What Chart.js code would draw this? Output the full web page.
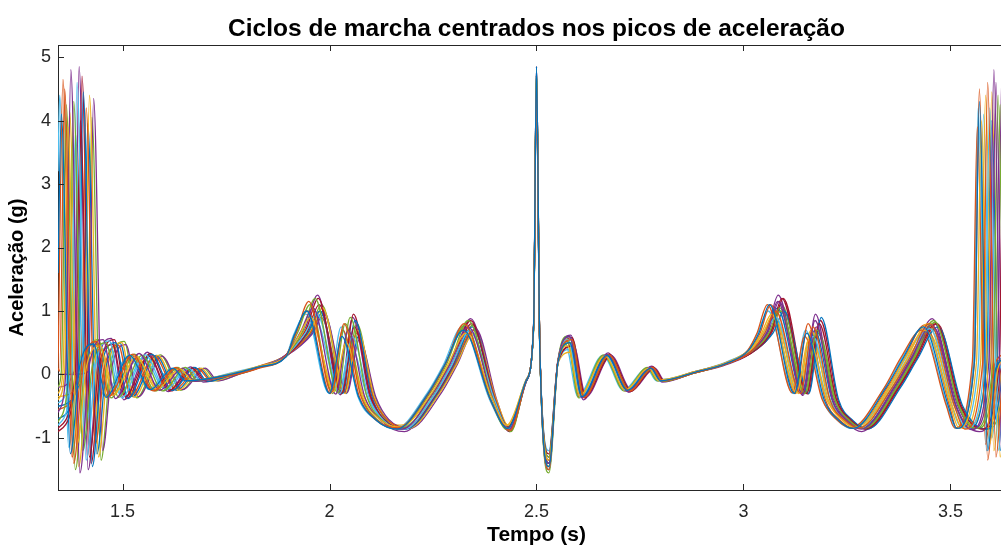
<!DOCTYPE html>
<html>
<head>
<meta charset="utf-8">
<script src="https://cdn.jsdelivr.net/npm/chart.js@4.4.1/dist/chart.umd.min.js"></script>
<style>
html,body{margin:0;padding:0;background:#fff;overflow:hidden;}
#wrap{width:1030px;height:545px;}
</style>
</head>
<body>
<div id="wrap"><canvas id="c" width="1030" height="545"></canvas></div>
<script>
// Tick values
const xTicks = [1.5, 2, 2.5, 3, 3.5];
const yTicks = [-1, 0, 1, 2, 3, 4, 5];
const xRange = [1.344, 3.656];
const yRange = [-1.82, 5.19];
const titulo = 'Ciclos de marcha centrados nos picos de aceleração';

// Gait cycles: [time (s), acceleration (g)], each read/
const ciclo01 = [[1.344,1.6],[1.352,4.1],[1.374,-1.25],[1.397,0.15],[1.430,0.48],[1.460,-0.36],[1.517,0.3],[1.567,-0.24],[1.622,0.1],[1.652,-0.1],[1.76,0.0],[1.83,0.12],[1.895,0.28],[1.915,0.62],[1.945,1.0],[2.000,-0.3],[2.030,0.6],[2.070,-0.35],[2.113,-0.72],[2.163,-0.86],[2.238,-0.3],[2.278,0.15],[2.323,0.7],[2.389,-0.4],[2.430,-0.85],[2.475,-0.1],[2.493,0.75],[2.5,4.85],[2.508,0.4],[2.53,-1.45],[2.552,0.2],[2.58,0.5],[2.61,-0.35],[2.67,0.3],[2.72,-0.25],[2.776,0.1],[2.80,-0.1],[2.88,0.03],[2.96,0.18],[3.012,0.38],[3.037,0.65],[3.063,1.1],[3.123,-0.3],[3.153,0.65],[3.195,-0.4],[3.23,-0.72],[3.265,-0.85],[3.345,-0.2],[3.385,0.25],[3.435,0.75],[3.495,-0.5],[3.515,-0.85],[3.558,0.2],[3.57,4.3],[3.59,-1.2],[3.61,0.1],[3.65,0.3]];
const ciclo02 = [[1.344,0.1],[1.348,0.05],[1.36,4.5],[1.382,-1.4],[1.405,0.15],[1.438,0.52],[1.468,-0.34],[1.525,0.32],[1.575,-0.26],[1.63,0.11],[1.66,-0.1],[1.76,-0.02],[1.83,0.1],[1.895,0.3],[1.92,0.66],[1.95,1.15],[2.005,-0.28],[2.035,0.8],[2.075,-0.33],[2.115,-0.72],[2.165,-0.84],[2.24,-0.3],[2.28,0.16],[2.325,0.8],[2.39,-0.42],[2.436,-0.88],[2.475,-0.1],[2.493,0.78],[2.5,4.7],[2.508,0.45],[2.53,-1.5],[2.552,0.22],[2.585,0.55],[2.615,-0.36],[2.675,0.31],[2.725,-0.26],[2.781,0.11],[2.805,-0.1],[2.88,0.02],[2.96,0.17],[3.02,0.37],[3.052,0.66],[3.078,1.0],[3.138,-0.3],[3.168,0.75],[3.21,-0.42],[3.245,-0.72],[3.28,-0.84],[3.36,-0.2],[3.40,0.24],[3.45,0.8],[3.51,-0.5],[3.535,-0.86],[3.578,0.2],[3.59,4.6],[3.61,-1.3],[3.63,0.15],[3.66,0.3]];
const ciclo03 = [[1.344,-0.3],[1.356,0.05],[1.368,3.9],[1.39,-1.1],[1.413,0.13],[1.446,0.45],[1.476,-0.33],[1.533,0.28],[1.583,-0.23],[1.638,0.09],[1.668,-0.09],[1.76,0.01],[1.83,0.13],[1.895,0.29],[1.925,0.6],[1.955,0.9],[2.01,-0.27],[2.04,0.5],[2.08,-0.36],[2.12,-0.7],[2.17,-0.83],[2.245,-0.31],[2.285,0.14],[2.33,0.65],[2.393,-0.38],[2.428,-0.8],[2.475,-0.09],[2.493,0.72],[2.5,4.8],[2.508,0.38],[2.53,-1.35],[2.552,0.19],[2.575,0.45],[2.605,-0.33],[2.665,0.29],[2.715,-0.24],[2.771,0.1],[2.795,-0.09],[2.88,0.04],[2.96,0.19],[3.015,0.39],[3.042,0.63],[3.068,0.95],[3.128,-0.29],[3.158,0.55],[3.20,-0.38],[3.235,-0.7],[3.27,-0.83],[3.35,-0.21],[3.39,0.26],[3.44,0.7],[3.50,-0.48],[3.52,-0.84],[3.563,0.2],[3.575,4.0],[3.595,-1.1],[3.615,0.1],[3.65,0.35]];
const ciclo04 = [[1.344,-0.6],[1.363,0.05],[1.375,4.8],[1.397,-1.55],[1.42,0.16],[1.453,0.55],[1.483,-0.38],[1.54,0.33],[1.59,-0.25],[1.645,0.1],[1.675,-0.11],[1.76,0.0],[1.83,0.12],[1.895,0.31],[1.93,0.67],[1.96,1.05],[2.015,-0.31],[2.045,0.7],[2.085,-0.35],[2.125,-0.73],[2.175,-0.86],[2.25,-0.29],[2.29,0.15],[2.335,0.75],[2.395,-0.41],[2.433,-0.87],[2.475,-0.11],[2.493,0.76],[2.5,4.6],[2.508,0.42],[2.53,-1.4],[2.552,0.21],[2.58,0.6],[2.61,-0.37],[2.67,0.32],[2.72,-0.27],[2.776,0.12],[2.80,-0.1],[2.88,0.03],[2.96,0.18],[3.022,0.38],[3.057,0.67],[3.083,1.15],[3.143,-0.31],[3.173,0.85],[3.215,-0.4],[3.25,-0.73],[3.285,-0.86],[3.365,-0.19],[3.405,0.25],[3.455,0.78],[3.515,-0.52],[3.55,-0.87],[3.593,0.2],[3.605,4.8],[3.625,-1.4],[3.645,0.1],[3.67,0.3]];
const ciclo05 = [[1.344,-0.75],[1.37,0.05],[1.382,4.3],[1.404,-1.2],[1.427,0.14],[1.46,0.5],[1.49,-0.36],[1.547,0.3],[1.597,-0.26],[1.652,0.11],[1.682,-0.1],[1.76,-0.01],[1.83,0.11],[1.895,0.3],[1.935,0.68],[1.965,1.2],[2.02,-0.29],[2.05,0.9],[2.09,-0.34],[2.125,-0.71],[2.175,-0.85],[2.25,-0.3],[2.29,0.16],[2.335,0.85],[2.395,-0.4],[2.438,-0.9],[2.475,-0.1],[2.493,0.74],[2.5,4.75],[2.508,0.41],[2.53,-1.3],[2.552,0.2],[2.585,0.5],[2.615,-0.35],[2.675,0.3],[2.725,-0.25],[2.781,0.1],[2.805,-0.11],[2.88,0.02],[2.96,0.17],[3.025,0.39],[3.062,0.66],[3.088,1.05],[3.148,-0.3],[3.178,0.7],[3.22,-0.39],[3.255,-0.72],[3.29,-0.85],[3.37,-0.2],[3.41,0.25],[3.46,0.85],[3.52,-0.5],[3.56,-0.85],[3.603,0.2],[3.615,4.4],[3.635,-1.25],[3.655,0.1],[3.68,0.3]];
const ciclo06 = [[1.344,-0.8],[1.378,0.05],[1.39,4.6],[1.412,-1.35],[1.435,0.15],[1.468,0.53],[1.498,-0.37],[1.555,0.31],[1.605,-0.24],[1.66,0.1],[1.69,-0.1],[1.76,0.0],[1.83,0.12],[1.895,0.3],[1.94,0.64],[1.97,0.95],[2.025,-0.3],[2.055,0.6],[2.095,-0.36],[2.13,-0.72],[2.18,-0.86],[2.255,-0.31],[2.295,0.14],[2.34,0.7],[2.398,-0.39],[2.433,-0.86],[2.475,-0.1],[2.493,0.75],[2.5,4.8],[2.508,0.4],[2.53,-1.5],[2.552,0.2],[2.577,0.55],[2.607,-0.36],[2.667,0.3],[2.717,-0.26],[2.773,0.1],[2.797,-0.1],[2.88,0.03],[2.96,0.18],[3.02,0.37],[3.052,0.64],[3.078,0.9],[3.138,-0.29],[3.168,0.6],[3.21,-0.41],[3.245,-0.71],[3.28,-0.85],[3.36,-0.2],[3.40,0.25],[3.45,0.72],[3.51,-0.5],[3.54,-0.85],[3.583,0.2],[3.595,4.2],[3.615,-1.2],[3.635,0.1],[3.66,0.3]];
const ciclo07 = [[1.344,-0.85],[1.386,0.05],[1.398,4.0],[1.42,-1.3],[1.443,0.14],[1.476,0.47],[1.506,-0.35],[1.563,0.29],[1.613,-0.25],[1.668,0.1],[1.698,-0.1],[1.76,0.0],[1.83,0.12],[1.895,0.29],[1.945,0.66],[1.975,1.1],[2.03,-0.29],[2.06,0.75],[2.10,-0.35],[2.133,-0.72],[2.183,-0.85],[2.258,-0.3],[2.298,0.15],[2.343,0.8],[2.399,-0.4],[2.431,-0.83],[2.475,-0.1],[2.493,0.75],[2.5,4.65],[2.508,0.4],[2.53,-1.25],[2.552,0.2],[2.588,0.45],[2.618,-0.34],[2.678,0.29],[2.728,-0.25],[2.784,0.1],[2.808,-0.1],[2.88,0.03],[2.96,0.17],[3.028,0.38],[3.067,0.68],[3.093,1.2],[3.153,-0.3],[3.183,0.8],[3.225,-0.4],[3.26,-0.72],[3.295,-0.86],[3.375,-0.2],[3.415,0.24],[3.465,0.8],[3.525,-0.5],[3.575,-0.86],[3.618,0.2],[3.63,4.7],[3.65,-1.3],[3.67,0.1]];
const ciclo08 = [[1.344,-0.7],[1.393,0.05],[1.405,4.45],[1.427,-1.45],[1.45,0.16],[1.483,0.5],[1.513,-0.38],[1.57,0.32],[1.62,-0.25],[1.675,0.11],[1.705,-0.11],[1.76,-0.02],[1.83,0.11],[1.895,0.3],[1.947,0.65],[1.977,1.0],[2.032,-0.3],[2.062,0.85],[2.102,-0.34],[2.135,-0.73],[2.185,-0.86],[2.26,-0.3],[2.30,0.15],[2.345,0.75],[2.40,-0.41],[2.435,-0.86],[2.475,-0.11],[2.493,0.77],[2.5,4.85],[2.508,0.43],[2.53,-1.4],[2.552,0.21],[2.58,0.6],[2.61,-0.36],[2.67,0.31],[2.72,-0.26],[2.776,0.11],[2.80,-0.1],[2.88,0.02],[2.96,0.18],[3.03,0.39],[3.072,0.66],[3.098,1.0],[3.158,-0.3],[3.188,0.9],[3.23,-0.4],[3.265,-0.73],[3.30,-0.86],[3.38,-0.2],[3.42,0.24],[3.47,0.75],[3.53,-0.5],[3.585,-0.86],[3.628,0.2],[3.64,4.5],[3.66,-1.3]];
const ciclo09 = [[1.344,-0.55],[1.40,0.05],[1.412,4.2],[1.434,-1.1],[1.457,0.13],[1.49,0.46],[1.52,-0.34],[1.577,0.29],[1.627,-0.23],[1.682,0.09],[1.712,-0.09],[1.765,0.0],[1.83,0.13],[1.895,0.3],[1.95,0.62],[1.98,0.9],[2.035,-0.28],[2.065,0.65],[2.105,-0.35],[2.137,-0.7],[2.187,-0.84],[2.262,-0.29],[2.302,0.15],[2.347,0.7],[2.401,-0.39],[2.433,-0.84],[2.475,-0.09],[2.493,0.73],[2.5,4.7],[2.508,0.39],[2.53,-1.35],[2.552,0.19],[2.584,0.5],[2.614,-0.35],[2.674,0.3],[2.724,-0.25],[2.78,0.1],[2.804,-0.09],[2.88,0.04],[2.96,0.19],[3.01,0.38],[3.032,0.64],[3.058,1.1],[3.118,-0.29],[3.148,0.6],[3.19,-0.39],[3.225,-0.71],[3.26,-0.84],[3.34,-0.21],[3.38,0.26],[3.43,0.7],[3.49,-0.49],[3.51,-0.84],[3.553,0.2],[3.565,3.9],[3.585,-1.1],[3.605,0.12],[3.64,0.35]];
const ciclo10 = [[1.344,-0.35],[1.408,0.05],[1.42,4.4],[1.442,-1.3],[1.465,0.15],[1.498,0.5],[1.528,-0.36],[1.585,0.3],[1.635,-0.25],[1.69,0.1],[1.72,-0.1],[1.77,0.0],[1.83,0.12],[1.895,0.3],[1.953,0.66],[1.983,1.05],[2.038,-0.3],[2.068,0.7],[2.108,-0.35],[2.14,-0.72],[2.19,-0.85],[2.265,-0.3],[2.305,0.14],[2.35,0.65],[2.403,-0.4],[2.437,-0.86],[2.475,-0.1],[2.493,0.76],[2.5,4.8],[2.508,0.42],[2.53,-1.45],[2.552,0.2],[2.576,0.55],[2.606,-0.36],[2.666,0.3],[2.716,-0.26],[2.772,0.1],[2.796,-0.1],[2.88,0.03],[2.96,0.18],[3.018,0.38],[3.047,0.65],[3.073,0.95],[3.133,-0.3],[3.163,0.7],[3.205,-0.4],[3.24,-0.72],[3.275,-0.85],[3.355,-0.2],[3.395,0.25],[3.445,0.8],[3.505,-0.5],[3.53,-0.85],[3.573,0.2],[3.585,4.4],[3.605,-1.2],[3.625,0.1],[3.66,0.3]];
const ciclo11 = [[1.344,0.0],[1.39,0.0],[1.418,0.05],[1.43,4.35],[1.452,-1.2],[1.475,0.14],[1.508,0.47],[1.538,-0.35],[1.595,0.29],[1.645,-0.24],[1.70,0.1],[1.73,-0.1],[1.78,0.0],[1.835,0.12],[1.895,0.29],[1.957,0.63],[1.987,0.95],[2.042,-0.29],[2.072,0.55],[2.112,-0.36],[2.143,-0.71],[2.193,-0.85],[2.268,-0.31],[2.308,0.15],[2.353,0.72],[2.404,-0.4],[2.433,-0.85],[2.475,-0.1],[2.493,0.75],[2.5,4.75],[2.508,0.4],[2.53,-1.3],[2.552,0.2],[2.59,0.45],[2.62,-0.35],[2.68,0.3],[2.73,-0.25],[2.786,0.1],[2.81,-0.1],[2.88,0.03],[2.96,0.18],[3.024,0.38],[3.06,0.67],[3.086,1.15],[3.146,-0.3],[3.176,0.75],[3.218,-0.4],[3.253,-0.72],[3.288,-0.85],[3.368,-0.2],[3.408,0.25],[3.458,0.75],[3.518,-0.5],[3.555,-0.85],[3.598,0.2],[3.61,4.6],[3.63,-1.3],[3.65,0.1],[3.67,0.3]];
const ciclo12 = [[1.344,-0.2],[1.352,0.05],[1.364,4.25],[1.386,-1.5],[1.409,0.16],[1.442,0.55],[1.472,-0.37],[1.529,0.32],[1.579,-0.26],[1.634,0.11],[1.664,-0.11],[1.76,0.0],[1.83,0.12],[1.895,0.3],[1.923,0.66],[1.953,1.1],[2.008,-0.3],[2.038,0.8],[2.078,-0.34],[2.117,-0.72],[2.167,-0.86],[2.242,-0.3],[2.282,0.15],[2.327,0.78],[2.391,-0.41],[2.429,-0.87],[2.475,-0.11],[2.493,0.77],[2.5,4.7],[2.508,0.43],[2.53,-1.55],[2.552,0.21],[2.572,0.6],[2.602,-0.37],[2.662,0.31],[2.712,-0.26],[2.768,0.11],[2.792,-0.1],[2.88,0.02],[2.96,0.17],[3.026,0.38],[3.064,0.66],[3.09,1.0],[3.15,-0.3],[3.18,0.65],[3.222,-0.41],[3.257,-0.72],[3.292,-0.85],[3.372,-0.2],[3.412,0.25],[3.462,0.82],[3.522,-0.5],[3.565,-0.85],[3.608,0.2],[3.62,4.25],[3.64,-1.25],[3.66,0.1]];
const ciclo13 = [[1.344,-0.45],[1.374,0.05],[1.386,3.8],[1.408,-1.0],[1.431,0.12],[1.464,0.42],[1.494,-0.32],[1.551,0.27],[1.601,-0.22],[1.656,0.09],[1.686,-0.08],[1.76,0.02],[1.83,0.13],[1.895,0.28],[1.937,0.58],[1.967,0.85],[2.022,-0.26],[2.052,0.45],[2.092,-0.37],[2.128,-0.7],[2.178,-0.82],[2.253,-0.32],[2.293,0.13],[2.338,0.68],[2.397,-0.37],[2.433,-0.82],[2.475,-0.08],[2.493,0.7],[2.5,4.6],[2.508,0.36],[2.53,-1.2],[2.552,0.18],[2.582,0.4],[2.612,-0.32],[2.672,0.27],[2.722,-0.23],[2.778,0.09],[2.802,-0.08],[2.88,0.04],[2.96,0.2],[3.016,0.39],[3.044,0.62],[3.07,0.85],[3.13,-0.27],[3.16,0.5],[3.202,-0.37],[3.237,-0.69],[3.272,-0.82],[3.352,-0.22],[3.392,0.26],[3.442,0.68],[3.502,-0.47],[3.525,-0.82],[3.568,0.2],[3.58,4.1],[3.60,-1.0],[3.62,0.1],[3.65,0.3]];
const ciclo14 = [[1.344,-0.9],[1.39,0.05],[1.402,4.7],[1.424,-1.4],[1.447,0.16],[1.48,0.55],[1.51,-0.38],[1.567,0.33],[1.617,-0.26],[1.672,0.11],[1.702,-0.11],[1.76,-0.01],[1.83,0.11],[1.895,0.31],[1.943,0.7],[1.973,1.2],[2.028,-0.31],[2.058,0.95],[2.098,-0.33],[2.131,-0.73],[2.181,-0.86],[2.256,-0.29],[2.296,0.16],[2.341,0.85],[2.398,-0.41],[2.436,-0.9],[2.475,-0.11],[2.493,0.78],[2.5,4.85],[2.508,0.44],[2.53,-1.5],[2.552,0.22],[2.586,0.58],[2.616,-0.37],[2.676,0.32],[2.726,-0.27],[2.782,0.12],[2.806,-0.11],[2.88,0.02],[2.96,0.17],[3.029,0.38],[3.07,0.68],[3.096,1.2],[3.156,-0.31],[3.186,0.85],[3.228,-0.4],[3.263,-0.73],[3.298,-0.86],[3.378,-0.19],[3.418,0.24],[3.468,0.8],[3.528,-0.51],[3.58,-0.86],[3.623,0.2],[3.635,4.75],[3.655,-1.4]];
const ciclo15 = [[1.344,-0.5],[1.404,0.05],[1.416,3.95],[1.438,-1.25],[1.461,0.14],[1.494,0.49],[1.524,-0.35],[1.581,0.3],[1.631,-0.25],[1.686,0.1],[1.716,-0.1],[1.77,0.0],[1.83,0.12],[1.895,0.3],[1.955,0.64],[1.985,1.0],[2.04,-0.3],[2.07,0.6],[2.11,-0.36],[2.139,-0.72],[2.189,-0.85],[2.264,-0.3],[2.304,0.14],[2.349,0.7],[2.402,-0.4],[2.434,-0.85],[2.475,-0.1],[2.493,0.74],[2.5,4.7],[2.508,0.4],[2.53,-1.35],[2.552,0.2],[2.58,0.5],[2.61,-0.35],[2.67,0.3],[2.72,-0.25],[2.776,0.1],[2.80,-0.1],[2.88,0.03],[2.96,0.18],[3.022,0.38],[3.056,0.65],[3.082,1.05],[3.142,-0.3],[3.172,0.7],[3.214,-0.4],[3.249,-0.72],[3.284,-0.85],[3.364,-0.2],[3.404,0.25],[3.454,0.74],[3.514,-0.5],[3.545,-0.85],[3.588,0.2],[3.60,4.0],[3.62,-1.2],[3.64,0.1],[3.67,0.3]];
const ciclo16 = [[1.344,0.05],[1.356,4.65],[1.378,-1.3],[1.401,0.15],[1.434,0.5],[1.464,-0.36],[1.521,0.31],[1.571,-0.25],[1.626,0.1],[1.656,-0.1],[1.76,0.0],[1.83,0.12],[1.895,0.29],[1.917,0.64],[1.947,1.0],[2.002,-0.3],[2.032,0.7],[2.072,-0.35],[2.113,-0.72],[2.163,-0.85],[2.238,-0.3],[2.278,0.15],[2.323,0.72],[2.389,-0.4],[2.432,-0.86],[2.475,-0.1],[2.493,0.75],[2.5,4.8],[2.508,0.41],[2.53,-1.4],[2.552,0.2],[2.574,0.52],[2.604,-0.36],[2.664,0.3],[2.714,-0.26],[2.77,0.1],[2.794,-0.1],[2.88,0.03],[2.96,0.18],[3.014,0.38],[3.04,0.65],[3.066,1.1],[3.126,-0.3],[3.156,0.8],[3.198,-0.4],[3.233,-0.72],[3.268,-0.85],[3.348,-0.2],[3.388,0.25],[3.438,0.78],[3.498,-0.5],[3.515,-0.85],[3.558,0.2],[3.57,4.5],[3.59,-1.35],[3.61,0.1],[3.65,0.3]];
const ciclo17 = [[1.344,-0.4],[1.36,0.05],[1.372,4.15],[1.394,-1.45],[1.417,0.15],[1.45,0.4],[1.48,-0.3],[1.537,0.26],[1.587,-0.22],[1.642,0.08],[1.672,-0.09],[1.76,0.01],[1.83,0.12],[1.895,0.28],[1.927,0.56],[1.957,0.8],[2.012,-0.25],[2.042,0.55],[2.082,-0.34],[2.121,-0.69],[2.171,-0.8],[2.246,-0.33],[2.286,0.12],[2.331,0.6],[2.393,-0.36],[2.432,-0.8],[2.475,-0.08],[2.493,0.7],[2.5,4.75],[2.508,0.4],[2.53,-1.45],[2.552,0.18],[2.583,0.35],[2.613,-0.3],[2.673,0.26],[2.723,-0.22],[2.779,0.08],[2.803,-0.08],[2.88,0.04],[2.96,0.19],[3.019,0.4],[3.049,0.6],[3.075,0.9],[3.135,-0.26],[3.165,0.55],[3.207,-0.36],[3.242,-0.68],[3.277,-0.8],[3.357,-0.22],[3.397,0.25],[3.447,0.66],[3.507,-0.46],[3.545,-0.8],[3.588,0.2],[3.6,4.45],[3.62,-1.3],[3.64,0.1],[3.67,0.3]];
const ciclo18 = [[1.344,-0.2],[1.383,0.05],[1.395,4.85],[1.417,-1.5],[1.44,0.17],[1.473,0.57],[1.503,-0.4],[1.56,0.35],[1.61,-0.27],[1.665,0.12],[1.695,-0.12],[1.76,-0.02],[1.83,0.11],[1.895,0.31],[1.941,0.72],[1.971,1.25],[2.026,-0.32],[2.056,0.9],[2.096,-0.33],[2.131,-0.75],[2.181,-0.9],[2.256,-0.28],[2.296,0.18],[2.341,0.88],[2.398,-0.43],[2.435,-0.9],[2.475,-0.12],[2.493,0.8],[2.5,4.85],[2.508,0.45],[2.53,-1.4],[2.552,0.24],[2.583,0.62],[2.613,-0.4],[2.673,0.34],[2.723,-0.28],[2.779,0.13],[2.803,-0.12],[2.88,0.02],[2.96,0.16],[3.023,0.37],[3.058,0.7],[3.084,1.25],[3.144,-0.33],[3.174,0.95],[3.216,-0.42],[3.251,-0.76],[3.286,-0.9],[3.366,-0.18],[3.406,0.24],[3.456,0.88],[3.516,-0.55],[3.57,-0.9],[3.613,0.2],[3.625,4.85],[3.645,-1.5],[3.665,0.1]];
const ciclo19 = [[1.344,0.0],[1.38,0.0],[1.414,0.05],[1.426,4.05],[1.448,-1.35],[1.471,0.15],[1.504,0.52],[1.534,-0.37],[1.591,0.31],[1.641,-0.25],[1.696,0.1],[1.726,-0.1],[1.78,0.0],[1.835,0.12],[1.895,0.3],[1.951,0.67],[1.981,1.1],[2.036,-0.29],[2.066,0.8],[2.106,-0.34],[2.137,-0.72],[2.187,-0.85],[2.262,-0.3],[2.302,0.15],[2.347,0.78],[2.401,-0.41],[2.436,-0.87],[2.475,-0.1],[2.493,0.76],[2.5,4.65],[2.508,0.42],[2.53,-1.5],[2.552,0.21],[2.587,0.55],[2.617,-0.36],[2.677,0.31],[2.727,-0.26],[2.783,0.11],[2.807,-0.1],[2.88,0.03],[2.96,0.18],[3.027,0.38],[3.066,0.66],[3.092,1.1],[3.152,-0.3],[3.182,0.65],[3.224,-0.4],[3.259,-0.72],[3.294,-0.85],[3.374,-0.2],[3.414,0.25],[3.464,0.82],[3.524,-0.5],[3.59,-0.86],[3.633,0.2],[3.645,4.1],[3.665,-1.2]];
const ciclo20 = [[1.344,3.2],[1.348,4.4],[1.37,-1.15],[1.393,0.14],[1.426,0.46],[1.456,-0.34],[1.513,0.29],[1.563,-0.23],[1.618,0.1],[1.648,-0.1],[1.76,0.0],[1.83,0.12],[1.895,0.29],[1.913,0.62],[1.943,0.95],[1.998,-0.29],[2.028,0.75],[2.068,-0.34],[2.11,-0.71],[2.16,-0.85],[2.235,-0.3],[2.275,0.15],[2.32,0.75],[2.387,-0.4],[2.43,-0.85],[2.475,-0.1],[2.493,0.74],[2.5,4.8],[2.508,0.4],[2.53,-1.3],[2.552,0.2],[2.57,0.48],[2.60,-0.35],[2.66,0.3],[2.71,-0.25],[2.766,0.1],[2.79,-0.1],[2.88,0.03],[2.96,0.18],[3.011,0.38],[3.034,0.65],[3.06,1.0],[3.12,-0.3],[3.15,0.7],[3.192,-0.4],[3.227,-0.72],[3.262,-0.85],[3.342,-0.2],[3.382,0.25],[3.432,0.72],[3.492,-0.5],[3.512,-0.85],[3.555,0.2],[3.567,4.2],[3.587,-1.2],[3.607,0.1],[3.64,0.3]];

const ciclos = [ciclo01, ciclo02, ciclo03, ciclo04, ciclo05, ciclo06, ciclo07, ciclo08, ciclo09, ciclo10,
                ciclo11, ciclo12, ciclo13, ciclo14, ciclo15, ciclo16, ciclo17, ciclo18, ciclo19, ciclo20];
const cores = ['#0072BD', '#D95319', '#EDB120', '#7E2F8E', '#77AC30', '#4DBEEE', '#A2142F'];

const FONT = "'Liberation Sans', Arial, Helvetica, sans-serif";
const AXIS = '#262626';

const datasets = ciclos.map((c, i) => ({
  data: c.map(p => ({x: p[0], y: p[1]})),
  borderColor: cores[i % cores.length],
  borderWidth: 1.3,
  pointRadius: 0,
  showLine: true,
  fill: false,
  cubicInterpolationMode: 'monotone'
}));

// Box, inward ticks and the title centred over the axes (as in the reference)
const boxTicks = {
  id: 'boxTicks',
  afterDraw(chart) {
    const {ctx, chartArea: a, scales: {x, y}} = chart;
    ctx.save();
    ctx.strokeStyle = AXIS;
    ctx.lineWidth = 1;
    ctx.beginPath();
    ctx.moveTo(a.left, a.top + 0.5); ctx.lineTo(a.right, a.top + 0.5);
    ctx.moveTo(a.right - 0.5, a.top); ctx.lineTo(a.right - 0.5, a.bottom);
    const L = 6;
    x.ticks.forEach(t => {
      const px = Math.round(x.getPixelForValue(t.value)) + 0.5;
      ctx.moveTo(px, a.bottom); ctx.lineTo(px, a.bottom - L);
      ctx.moveTo(px, a.top); ctx.lineTo(px, a.top + L);
    });
    y.ticks.forEach(t => {
      const py = Math.round(y.getPixelForValue(t.value)) + 0.5;
      ctx.moveTo(a.left, py); ctx.lineTo(a.left + L, py);
      ctx.moveTo(a.right, py); ctx.lineTo(a.right - L, py);
    });
    ctx.stroke();
    ctx.fillStyle = '#000';
    ctx.font = 'bold 24.5px ' + FONT;
    ctx.textAlign = 'center';
    ctx.textBaseline = 'middle';
    ctx.fillText(titulo, (a.left + a.right) / 2, 29);
    ctx.restore();
  }
};

new Chart(document.getElementById('c'), {
  type: 'scatter',
  data: {datasets},
  plugins: [boxTicks],
  options: {
    responsive: false,
    animation: false,
    layout: {padding: {left: 0, right: 15, top: 45, bottom: 0}},
    plugins: {
      legend: {display: false},
      tooltip: {enabled: false},
      title: {display: false}
    },
    scales: {
      x: {
        type: 'linear',
        min: xRange[0], max: xRange[1],
        afterBuildTicks: s => { s.ticks = xTicks.map(v => ({value: v})); },
        afterFit: s => { s.height = 55; },
        grid: {display: false, drawTicks: false},
        border: {display: true, color: AXIS, width: 1},
        ticks: {color: AXIS, font: {family: FONT, size: 18}, padding: 11, maxRotation: 0, callback: v => String(v)},
        title: {display: true, text: 'Tempo (s)', color: '#000', font: {family: FONT, size: 21, weight: 'bold', lineHeight: 1.2}, padding: {top: 0, bottom: -3}}
      },
      y: {
        type: 'linear',
        min: yRange[0], max: yRange[1],
        afterBuildTicks: s => { s.ticks = yTicks.map(v => ({value: v})); },
        afterFit: s => { s.width = 58; },
        grid: {display: false, drawTicks: false},
        border: {display: true, color: AXIS, width: 1},
        ticks: {color: AXIS, font: {family: FONT, size: 18}, padding: 7, callback: v => String(v)},
        title: {display: true, text: 'Aceleração (g)', color: '#000', font: {family: FONT, size: 20, weight: 'bold', lineHeight: 1.2}, padding: {top: 5, bottom: 0}}
      }
    }
  }
});
</script>
</body>
</html>
